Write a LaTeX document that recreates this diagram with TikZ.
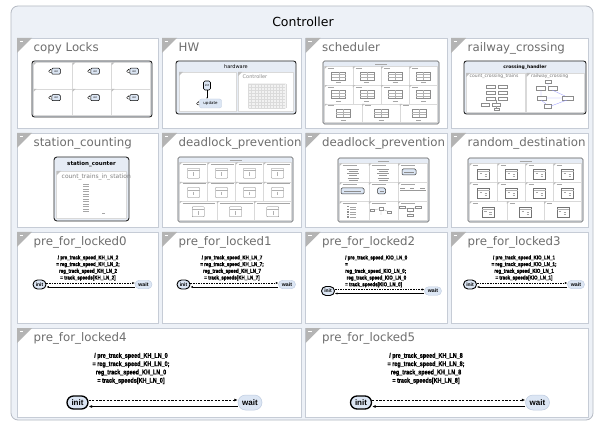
\documentclass[tikz,border=0pt]{standalone}
\usepackage{fontspec}
\setmainfont{DejaVu Sans}
\newfontfamily\labfont[FakeStretch=0.8,FakeBold=1.3]{Liberation Sans Bold}
\newfontfamily\stfont{Liberation Sans}
\usetikzlibrary{arrows.meta}
\definecolor{outerfill}{HTML}{EDF1F7}
\definecolor{outerline}{HTML}{B5BAC3}
\definecolor{panelline}{HTML}{C6CCD6}
\definecolor{titlegray}{HTML}{6E6E6E}
\definecolor{trigray}{HTML}{B4B4B4}
\definecolor{thumbfill}{HTML}{E6ECF5}
\definecolor{stfill}{HTML}{DCE6F4}
\definecolor{stline}{HTML}{BFCCE0}
\newcommand\fsz[1]{\fontsize{#1}{#1}\selectfont}
\newcommand\mkpanel[6]{%
  \draw[panelbox] (#2,#3) rectangle (#4,#5);
  \fill[ptri] (#2,#3) -- ++(15,0) -- ++(-15,15) -- cycle;
  \draw[white, line width=0.8pt] ({#2+2.5},{#3+3.5}) -- ++(3.5,0);
  \node (#1) [ptitle] at ({#2+16.5},{#3+13.5}) {#6};
}
\newcommand\minigrid[5]{%
  \pgfmathsetmacro\gxa{#1+1.5}
  \pgfmathsetmacro\gya{#2+5.5}
  \pgfmathsetmacro\gwd{#3-#1-3}
  \pgfmathsetmacro\ght{(#4-#2-7)/3}
  \foreach \rr/\nn in {0/4,1/4,2/3} {
    \foreach \cc in {1,...,\nn} {
      \pgfmathsetmacro\cwd{\gwd/\nn}
      \pgfmathsetmacro\xa{\gxa+(\cc-1)*\cwd}
      \pgfmathsetmacro\ya{\gya+\rr*\ght}
      \pgfmathsetmacro\xm{\xa+\cwd/2}
      \pgfmathsetmacro\ym{\ya+\ght/2}
      \draw[cellst] (\xa,\ya) rectangle ++(\cwd,\ght);
      \fill[celltri] (\xa,\ya) -- ++(2.5,0) -- ++(-2.5,2.5) -- cycle;
      #5
    }
  }
  \draw[tline] ({(#1+#3)/2-6},{#2+2.8}) -- ({(#1+#3)/2+6},{#2+2.8});
}
\newcommand\schedcell{%
  \draw[tline, line width=0.3pt] ({\xa+3},{\ya+1.5}) -- ++(6,0);
  \draw[tbox] ({\xm-7},{\ym-4}) rectangle ({\xm+7},{\ym+4});
  \draw[black!30, line width=0.2pt] ({\xm-7},{\ym-1.3}) -- ({\xm+7},{\ym-1.3}) ({\xm-7},{\ym+1.3}) -- ({\xm+7},{\ym+1.3}) (\xm,{\ym-4}) -- (\xm,{\ym+4});
  \draw[tline, line width=0.3pt] ({\xm-2.5},{\ym+6.5}) -- ({\xm+2.5},{\ym+6.5});
}
\newcommand\dlcell{%
  \draw[tline, line width=0.3pt] ({\xa+3},{\ya+1.5}) -- ({\xa+\cwd-1.5},{\ya+1.5});
  \draw[tbox, draw=black!55, rounded corners=0.6pt] ({\xm-6},{\ym-4}) rectangle ({\xm+6},{\ym+6});
  \draw[black!30, line width=0.2pt] ({\xm-6},{\ym-1.8}) -- ({\xm+6},{\ym-1.8});
  \draw[black!30, line width=0.3pt] (\xm,{\ym+0.3}) -- (\xm,{\ym+4});
}
\newcommand\rdcell{%
  \draw[tline, line width=0.3pt] ({\xa+3},{\ya+1.5}) -- ++(5,0);
  \draw[tbox, draw=black!55] ({\xm-6},{\ym-4}) rectangle ({\xm+6},{\ym+6});
  \draw[black!30, line width=0.2pt] ({\xm-6},{\ym-2}) -- ({\xm+6},{\ym-2});
  \draw[black!35, line width=0.3pt] ({\xm-4},{\ym}) -- ++(2.5,0) ({\xm+1},{\ym+1.5}) -- ++(2.5,0) ({\xm+1},{\ym+3.5}) -- ++(2.5,0);
}
\begin{document}
\begin{tikzpicture}[x=1pt,y=-1pt,
  outerbox/.style={draw=outerline, fill=outerfill, rounded corners=7pt, line width=0.8pt},
  panelbox/.style={draw=panelline, fill=white, line width=0.7pt},
  ptitle/.style={anchor=base west, text=titlegray, font=\fsz{11.8}, inner sep=0pt},
  ptri/.style={fill=trigray},
  thumbA/.style={draw=black!85, fill=thumbfill, line width=0.9pt, rounded corners=2.5pt},
  thumbB/.style={draw=black!65, fill=thumbfill, line width=0.6pt, rounded corners=1.5pt},
  cellst/.style={draw=black!15, fill=white, line width=0.3pt},
  celltri/.style={fill=black!25},
  tline/.style={draw=black!35, line width=0.5pt},
  tbox/.style={draw=black!45, fill=white, line width=0.3pt},
  minithick/.style={rectangle, rounded corners=1.2pt, draw=black!80, line width=0.5pt, fill=stfill, inner sep=0pt},
  miniinit/.style={rectangle, rounded corners=1pt, draw=black, line width=0.5pt, fill=stfill, minimum width=8.5pt, minimum height=6pt, inner sep=0pt, font=\fsz{2.4}},
  initC/.style={rectangle, rounded corners=1.5pt, draw=black, line width=0.6pt, fill=stfill, minimum width=7pt, minimum height=9pt, inner sep=0pt, font=\fsz{2.8}},
  updst/.style={rectangle, rounded corners=2pt, draw=stline, line width=0.3pt, fill=stfill, minimum width=22pt, minimum height=9pt, inner sep=0pt, font=\fsz{4}},
  minitr/.style={line width=0.4pt, -{Latex[length=1.3pt,width=1.2pt]}},
  initA/.style={rectangle, rounded corners=4.5pt, draw=black, line width=0.9pt, fill=stfill, minimum width=13pt, minimum height=9pt, inner sep=0pt, font=\stfont\bfseries\fsz{5}},
  waitA/.style={rectangle, rounded corners=4.2pt, draw=stline, line width=0.4pt, fill=stfill, minimum width=17pt, minimum height=8.5pt, inner sep=0pt, font=\stfont\bfseries\fsz{5.2}},
  initB/.style={rectangle, rounded corners=6.5pt, draw=black, line width=1.3pt, fill=stfill, minimum width=21pt, minimum height=13pt, inner sep=0pt, font=\stfont\bfseries\fsz{8}},
  waitB/.style={rectangle, rounded corners=7.5pt, draw=stline, line width=0.5pt, fill=stfill, minimum width=24pt, minimum height=15pt, inner sep=0pt, font=\stfont\bfseries\fsz{8}},
  trdA/.style={dash pattern=on 1.6pt off 1pt, line width=0.5pt, -{Latex[length=2.4pt,width=2.2pt]}},
  trsA/.style={line width=0.7pt, -{Latex[length=2.4pt,width=2.2pt]}},
  trdB/.style={dash pattern=on 2.2pt off 1.4pt, line width=0.7pt, -{Latex[length=3.5pt,width=3pt]}},
  trsB/.style={line width=1pt, -{Latex[length=3.5pt,width=3pt]}},
  lblA/.style={align=center, font=\labfont\fontsize{5.6}{6.7}\selectfont, inner sep=0pt},
  lblB/.style={align=center, font=\labfont\fontsize{6.8}{8.3}\selectfont, inner sep=0pt}
]
\useasboundingbox (0,0) rectangle (596,427);
\fill[white] (0,0) rectangle (596,427);
\draw[outerbox] (11,6) rectangle (593,420);
\node (ctitle) [anchor=base, font=\fsz{12.5}, inner sep=0pt] at (303,27) {Controller};

% ---------- panels ----------
\mkpanel{p1}{17}{38}{158}{128}{copy Locks}
\mkpanel{p2}{162}{38}{301}{128}{HW}
\mkpanel{p3}{305.5}{38}{447}{128}{scheduler}
\mkpanel{p4}{451}{38}{588}{128}{railway\_crossing}
\mkpanel{p5}{17}{133}{158}{227}{station\_counting}
\mkpanel{p6}{162}{133}{301}{227}{deadlock\_prevention}
\mkpanel{p7}{305.5}{133}{447}{227}{deadlock\_prevention}
\mkpanel{p8}{451}{133}{588}{227}{random\_destination}
\mkpanel{p9}{17}{232}{158}{323}{pre\_for\_locked0}
\mkpanel{p10}{162}{232}{301}{323}{pre\_for\_locked1}
\mkpanel{p11}{305.5}{232}{447}{323}{pre\_for\_locked2}
\mkpanel{p12}{451}{232}{588}{323}{pre\_for\_locked3}
\mkpanel{p13}{17}{328}{301}{417}{pre\_for\_locked4}
\mkpanel{p14}{305.5}{328}{588}{417}{pre\_for\_locked5}

% ---------- copy Locks ----------
\draw[thumbA] (32,61) rectangle (152,117);
\foreach \rr in {0,1} \foreach \cc in {0,1,2} {
  \pgfmathsetmacro\xa{33.5+\cc*39}
  \pgfmathsetmacro\ya{62.5+\rr*26.5}
  \draw[cellst] (\xa,\ya) rectangle ++(39,26.5);
  \fill[celltri] (\xa,\ya) -- ++(3,0) -- ++(-3,3) -- cycle;
  \node (cl\rr\cc) [miniinit] at ({\xa+22.5},{\ya+8.7}) {init};
  \draw[minitr] ([yshift=-1.5pt]cl\rr\cc.west) to[out=180,in=180,looseness=3] ([yshift=1.5pt]cl\rr\cc.west);
}

% ---------- HW ----------
\draw[thumbA] (176,61) rectangle (296,114);
\node (hwh) [font=\fsz{5}, inner sep=0pt] at (236,67) {hardware};
\draw[cellst] (179,72) rectangle (236.5,111.5);
\draw[cellst] (238,72) rectangle (293,111.5);
\fill[celltri] (179,72) -- ++(4,0) -- ++(-4,4) -- cycle;
\fill[celltri] (238,72) -- ++(4,0) -- ++(-4,4) -- cycle;
\node (hwc) [anchor=west, text=black!45, font=\fsz{5}, inner sep=0pt] at (242.5,76.5) {Controller};
\node (hwi) [initC] at (207,85.5) {init};
\node (hwu) [updst] at (210.5,103.5) {update};
\draw[minitr] (hwi.south) -- (hwi.south |- hwu.north);
\draw[minitr] ([yshift=-1.5pt]hwu.west) to[out=180,in=180,looseness=3] ([yshift=1.5pt]hwu.west);
\fill[black!5] (248,83) rectangle (286,109);
\foreach \k in {0,...,12} \draw[black!14, line width=0.25pt] ({248.5+\k*3.1},84) -- ++(0,24);
\foreach \k in {0,...,8} \draw[black!14, line width=0.25pt] (249,{84+\k*3}) -- ++(36,0);

% ---------- scheduler ----------
\draw[thumbB] (323,61) rectangle (439,124);
\minigrid{323}{61}{439}{124}{\schedcell}

% ---------- railway_crossing ----------
\draw[thumbA] (464,61) rectangle (586,114);
\node (rch) [font=\bfseries\fsz{4.5}, inner sep=0pt] at (525,67) {crossing\_handler};
\draw[cellst] (466,73) rectangle (525.5,112);
\draw[cellst] (526.5,73) rectangle (584,112);
\fill[celltri] (466,73) -- ++(4,0) -- ++(-4,4) -- cycle;
\fill[celltri] (526.5,73) -- ++(4,0) -- ++(-4,4) -- cycle;
\node (rcl) [anchor=west, text=black!55, font=\fsz{4.5}, inner sep=0pt] at (469.5,76.5) {count\_crossing\_trains};
\node (rcr) [anchor=west, text=black!55, font=\fsz{4.5}, inner sep=0pt] at (531,76.5) {railway\_crossing};
\foreach \k in {0,1,2} {
  \draw[tbox] (486,{85+\k*6}) rectangle ++(9,3.5);
  \draw[tbox] (498,{85+\k*6}) rectangle ++(9,3.5);
}
\draw[tbox] (481,103) rectangle ++(8,3.5);
\draw[tbox] (492,103) rectangle ++(8,3.5);
\draw[tbox] (494,108) rectangle ++(5,2.5);
\draw[black!40, line width=0.3pt] (496,100) -- (496,103) (496.5,106.5) -- (496.5,108);
\draw[tbox] (545,80.5) rectangle ++(6,3);
\draw[tbox] (536,86) rectangle ++(9,4);
\draw[tbox] (548,86) rectangle ++(9,4);
\draw[tbox] (537,96) rectangle ++(9,4);
\draw[tbox] (562,96) rectangle ++(11,4);
\draw[tbox] (544,104) rectangle ++(7,4);
\draw[blue!40, line width=0.3pt] (548,83.5) -- (548,86) (541,90) -- (541,96) (552,90) -- (565,96) (546,98) -- (562,98) (541,100) -- (546,104) (567,100) -- (551,106);

% ---------- station_counting ----------
\draw[thumbA, rounded corners=3pt] (54,157) rectangle (129,221);
\node (sth) [font=\bfseries\fsz{5.5}, inner sep=0pt] at (91.5,164.5) {station\_counter};
\draw[cellst] (56.5,171) rectangle (126.5,218.5);
\fill[celltri] (56.5,171) -- ++(4.5,0) -- ++(-4.5,4.5) -- cycle;
\node (stl) [anchor=west, text=black!50, font=\fsz{6}, inner sep=0pt] at (61.5,177) {count\_trains\_in\_station};
\foreach \k in {0,...,11} \draw[black!35, line width=0.4pt] (83,{184+\k*2.5}) -- (89,{184+\k*2.5});
\draw[black!35, line width=0.4pt] (102,213) -- (105,213);

% ---------- deadlock_prevention (1) ----------
\draw[thumbB] (178,157) rectangle (293,222);
\minigrid{178}{157}{293}{222}{\dlcell}

% ---------- deadlock_prevention (2) ----------
\draw[thumbB] (338,158) rectangle (429,222);
\draw[tline] (378,160.8) -- (389,160.8);
\foreach \rr in {0,1,2} \foreach \cc in {0,1,2} {
  \pgfmathsetmacro\xa{339.5+\cc*29.33}
  \pgfmathsetmacro\ya{163.5+\rr*19}
  \draw[cellst] (\xa,\ya) rectangle ++(29.33,19);
  \fill[celltri] (\xa,\ya) -- ++(2.5,0) -- ++(-2.5,2.5) -- cycle;
  \draw[tline, line width=0.3pt] ({\xa+3},{\ya+1.5}) -- ++(14,0);
}
\foreach \k/\l in {0/12,1/9,2/12,3/8,4/11,5/9} {
  \draw[black!40, line width=0.35pt] ({353-\l/2},{169+\k*2.2}) -- ++(\l,0);
  \draw[black!40, line width=0.35pt] ({383-\l/2},{169+\k*2.2}) -- ++(\l,0);
}
\node (d7a) [minithick, minimum width=14pt, minimum height=6pt] at (409,172) {};
\draw[black!45, line width=0.3pt] (404,172) -- (414,172);
\node (d7b) [minithick, minimum width=23pt, minimum height=6pt] at (352.5,191) {};
\draw[black!45, line width=0.3pt] (344,191) -- (361,191);
\node (d7c) [minithick, minimum width=8pt, minimum height=6pt] at (381.5,191) {};
\draw[black!45, line width=0.3pt] (379.5,191) -- (383.5,191);
\draw[black!40, line width=0.4pt] (400,190) -- (426,190) (400,188) -- (405,188) (410,188) -- (414,188) (420,188) -- (425,188);
\foreach \k in {0,...,4} {
  \fill[black!45] (347,{206+\k*2.6}) rectangle ++(2,1.5);
  \draw[black!35, line width=0.3pt] (350,{206.7+\k*2.6}) -- ++(6,0);
}
\draw[black!35, line width=0.3pt] (373,210) -- (381,208.5) -- (389,212) (381,208.5) -- (381,215);
\draw[tbox] (370,209) rectangle ++(4,2.5);
\draw[tbox] (379,207.5) rectangle ++(4,2.5);
\draw[tbox] (387,211) rectangle ++(4,2.5);
\draw[black!35, line width=0.3pt] (402,207) -- (410,209.5) -- (418,207) (410,209.5) -- (410,215);
\draw[tbox] (399,206) rectangle ++(6,2.5);
\draw[tbox] (407,208.5) rectangle ++(6,2.5);
\draw[tbox] (415,206) rectangle ++(6,2.5);
\draw[tbox] (407,214) rectangle ++(6,2.5);

% ---------- random_destination ----------
\draw[thumbB] (468,158) rectangle (583,222);
\minigrid{468}{158}{583}{222}{\rdcell}

% ---------- pre_for_locked0..3 ----------
\node (i9) [initA] at (39.5,284.5) {init};
\node (w9) [waitA] at (143.5,284.5) {wait};
\draw[trdA] ([yshift=1.5pt]i9.east) -- ([yshift=1.5pt]w9.west);
\draw[trsA] ([yshift=-2.5pt]w9.west) -- ([yshift=-2.5pt]i9.east);
\node (t9) [lblA] at (88,268) {/ pre\_track\_speed\_KH\_LN\_2\\= reg\_track\_speed\_KH\_LN\_2;\\reg\_track\_speed\_KH\_LN\_2\\= track\_speeds[KH\_LN\_2]};

\node (i10) [initA] at (183.5,284.5) {init};
\node (w10) [waitA] at (287,284.5) {wait};
\draw[trdA] ([yshift=1.5pt]i10.east) -- ([yshift=1.5pt]w10.west);
\draw[trsA] ([yshift=-2.5pt]w10.west) -- ([yshift=-2.5pt]i10.east);
\node (t10) [lblA] at (232,268) {/ pre\_track\_speed\_KH\_LN\_7\\= reg\_track\_speed\_KH\_LN\_7;\\reg\_track\_speed\_KH\_LN\_7\\= track\_speeds[KH\_LN\_7]};

\node (i11) [initA] at (328,291) {init};
\node (w11) [waitA] at (433,291) {wait};
\draw[trdA] ([yshift=1.5pt]i11.east) -- ([yshift=1.5pt]w11.west);
\draw[trsA] ([yshift=-2.5pt]w11.west) -- ([yshift=-2.5pt]i11.east);
\node (t11) [lblA, align=left, anchor=west] at (345,271.4) {/ pre\_track\_speed\_KIO\_LN\_0\\=\\reg\_track\_speed\_KIO\_LN\_0;\\\hspace*{1.5pt}reg\_track\_speed\_KIO\_LN\_0\\= track\_speeds[KIO\_LN\_0]};

\node (i12) [initA] at (470,284.5) {init};
\node (w12) [waitA] at (576,284.5) {wait};
\draw[trdA] ([yshift=1.5pt]i12.east) -- ([yshift=1.5pt]w12.west);
\draw[trsA] ([yshift=-2.5pt]w12.west) -- ([yshift=-2.5pt]i12.east);
\node (t12) [lblA] at (524,268) {/ pre\_track\_speed\_KIO\_LN\_1\\= reg\_track\_speed\_KIO\_LN\_1;\\reg\_track\_speed\_KIO\_LN\_1\\= track\_speeds[KIO\_LN\_1]};

% ---------- pre_for_locked4..5 ----------
\node (i13) [initB] at (77.5,402.5) {init};
\node (w13) [waitB] at (250,402.5) {wait};
\draw[trdB] ([yshift=2.5pt]i13.east) -- ([yshift=2.5pt]w13.west);
\draw[trsB] ([yshift=-4pt]w13.west) -- ([yshift=-4pt]i13.east);
\node (t13) [lblB] at (131,368.5) {/ pre\_track\_speed\_KH\_LN\_0\\= reg\_track\_speed\_KH\_LN\_0;\\reg\_track\_speed\_KH\_LN\_0\\= track\_speeds[KH\_LN\_0]};

\node (i14) [initB] at (361,402.5) {init};
\node (w14) [waitB] at (537.5,402.5) {wait};
\draw[trdB] ([yshift=2.5pt]i14.east) -- ([yshift=2.5pt]w14.west);
\draw[trsB] ([yshift=-4pt]w14.west) -- ([yshift=-4pt]i14.east);
\node (t14) [lblB] at (426,368.5) {/ pre\_track\_speed\_KH\_LN\_8\\= reg\_track\_speed\_KH\_LN\_8;\\reg\_track\_speed\_KH\_LN\_8\\= track\_speeds[KH\_LN\_8]};
\end{tikzpicture}
\end{document}
